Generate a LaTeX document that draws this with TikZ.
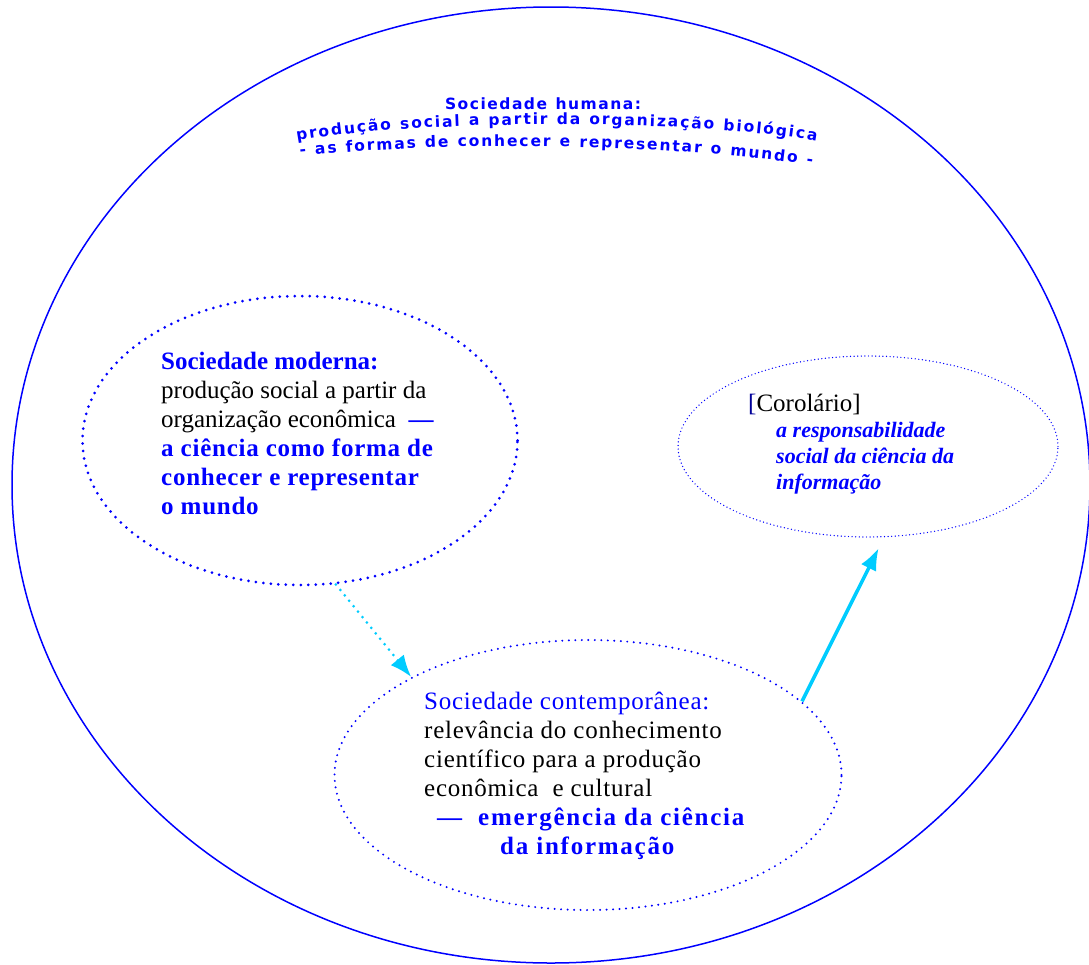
\documentclass[tikz,border=0pt]{standalone}
\usepackage{fontspec}
\setmainfont{Liberation Serif}
\newfontfamily\arcfont{DejaVu Sans}[UprightFont={* Bold}]
\usetikzlibrary{arrows.meta,shapes.geometric,decorations.text}
\definecolor{arrowcyan}{RGB}{0,204,255}

\begin{document}
\begin{tikzpicture}[x=1pt,y=-1pt,>={Latex[length=22pt,width=17pt]},
  oval node/.style={ellipse,draw=blue,inner sep=0pt},
  text node/.style={inner sep=0pt,align=left,anchor=north west,font=\fontsize{25}{29}\selectfont},
  arc text/.style={decorate,decoration={text along path,text align=fit to path,text color=blue,
    text={|\arcfont\fontsize{15.5}{18}\selectfont|#1}}}]

  \useasboundingbox (0,0) rectangle (1089,964);

  \node[oval node,line width=1.5pt,minimum width=1078pt,minimum height=956pt] (1) at (551,485) {};
  \node[oval node,line width=3pt,line cap=round,dash pattern=on 0pt off 7.5pt,
        minimum width=435pt,minimum height=289pt] (2) at (300,440.5) {};
  \node[oval node,line width=2.2pt,line cap=round,dash pattern=on 0pt off 6.5pt,
        minimum width=507pt,minimum height=270pt] (3) at (588,775) {};
  \node[oval node,line width=1.4pt,line cap=round,dash pattern=on 0pt off 3.6pt,
        minimum width=380pt,minimum height=181pt] (4) at (868,446.5) {};

  % titulo em arco
  \path[arc text={Sociedade humana:}] (445,109) -- (641,109);
  \path[arc text={produção social a partir da organização biológica}]
    (297,141) .. controls (420,119) and (690,119) .. (816,141);
  \path[arc text={- as formas de conhecer e representar o mundo -}]
    (300,156) .. controls (450,141) and (660,143) .. (812,165);

  \node[text node] (5) at (161,352) {\textcolor{blue}{\textbf{Sociedade moderna:}}\\
    produção social a partir da\\
    organização econômica \ \textcolor{blue}{\textbf{—}}\\
    \addfontfeatures{LetterSpace=3}\textcolor{blue}{\textbf{a ciência como forma de}}\\
    \addfontfeatures{LetterSpace=3}\textcolor{blue}{\textbf{conhecer e representar}}\\
    \addfontfeatures{LetterSpace=3}\textcolor{blue}{\textbf{o mundo}}};

  \node[text node,font=\fontsize{25}{29}\selectfont\addfontfeatures{LetterSpace=3}] (6) at (424,692)
    {\textcolor{blue}{Sociedade contemporânea:}\\
    relevância do conhecimento\\
    científico para a produção\\
    econômica \ e cultural\\
    \hspace*{13pt}\addfontfeatures{LetterSpace=7}\textcolor{blue}{\textbf{— \ emergência da ciência}}\\
    \hspace*{76pt}\addfontfeatures{LetterSpace=7}\textcolor{blue}{\textbf{da informação}}};

  \node[text node,font=\fontsize{22}{26}\selectfont] (7) at (748,394)
    {{\fontsize{25}{26}\selectfont\textcolor{blue!60!black}{[}Corolário]}\\
    \hspace*{28pt}\textcolor{blue}{\textbf{\textit{a responsabilidade}}}\\
    \hspace*{28pt}\textcolor{blue}{\textbf{\textit{social da ciência da}}}\\
    \hspace*{28pt}\textcolor{blue}{\textbf{\textit{informação}}}};

  \draw[->,arrowcyan,line width=3pt,line cap=round,dash pattern=on 0pt off 7pt] (2.-76) -- (3.151);
  \draw[->,arrowcyan,line width=3.5pt,shorten >=12pt] (3.19) -- (4.-80);

\end{tikzpicture}
\end{document}
